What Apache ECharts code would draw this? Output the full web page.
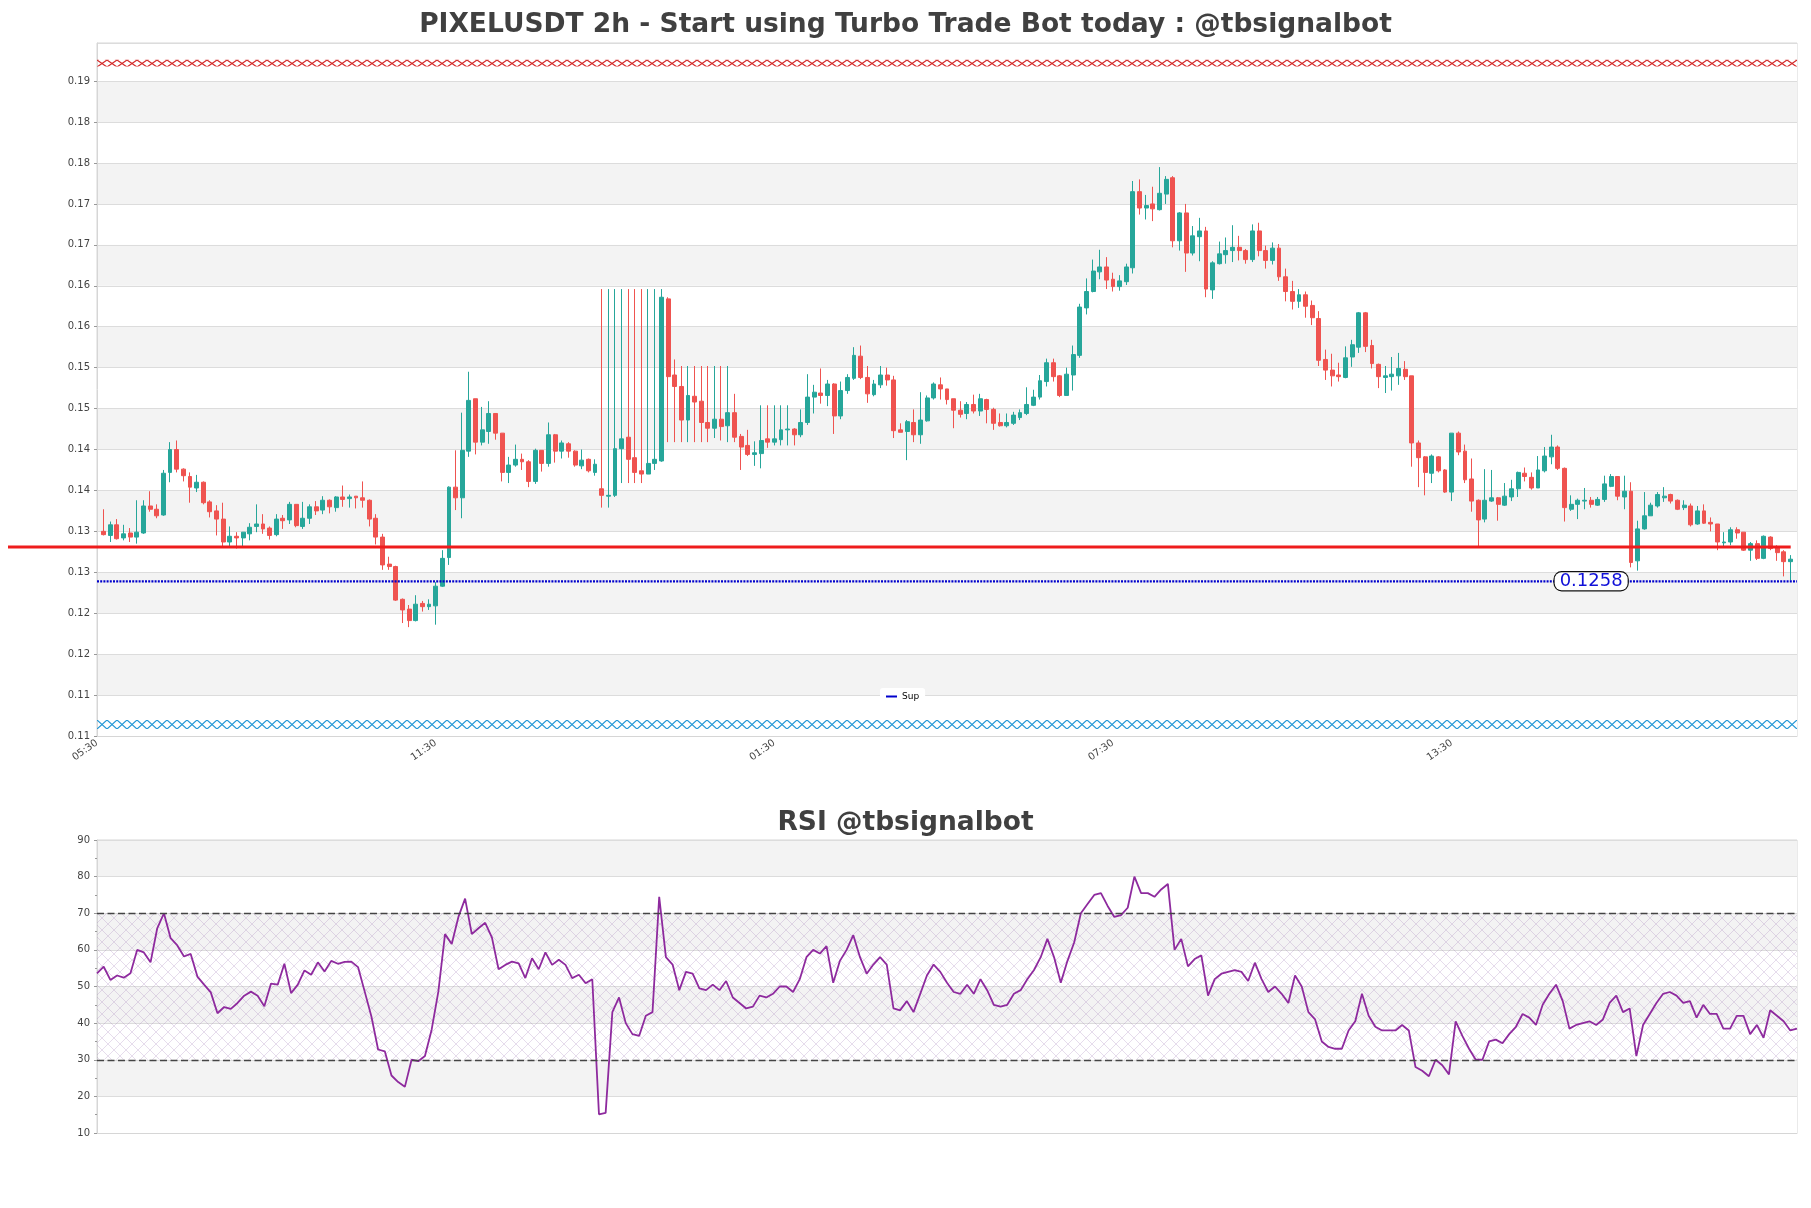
<!DOCTYPE html>
<html><head><meta charset="utf-8">
<script src="https://cdn.jsdelivr.net/npm/echarts@6/dist/echarts.min.js"></script>
<style>html,body{margin:0;padding:0;background:#fff}#c{width:1811px;height:1208px}</style>
</head><body><div id="c"></div>
<script>
const TITLE = 'PIXELUSDT 2h - Start using Turbo Trade Bot today : @tbsignalbot';
const RSI_TITLE = 'RSI @tbsignalbot';

const OPEN = [
0.1319,0.1314,0.1327,0.1311,0.1317,0.1312,0.1317,0.1350,0.1346,0.1339,
0.1391,0.1419,0.1395,0.1386,0.1372,0.1379,0.1355,0.1344,0.1334,0.1306,
0.1313,0.1311,0.1316,0.1325,0.1328,0.1323,0.1315,0.1335,0.1333,0.1352,
0.1325,0.1335,0.1349,0.1345,0.1357,0.1348,0.1361,0.1359,0.1362,0.1360,
0.1357,0.1335,0.1312,0.1279,0.1276,0.1236,0.1224,0.1210,0.1231,0.1227,
0.1228,0.1252,0.1287,0.1373,0.1360,0.1417,0.1481,0.1428,0.1441,0.1463,
0.1439,0.1391,0.1400,0.1407,0.1404,0.1380,0.1418,0.1402,0.1437,0.1417,
0.1426,0.1417,0.1399,0.1407,0.1391,0.1371,0.1362,0.1363,0.1420,0.1434,
0.1409,0.1393,0.1389,0.1402,0.1405,0.1603,0.1510,0.1496,0.1455,0.1484,
0.1478,0.1452,0.1445,0.1456,0.1448,0.1464,0.1435,0.1424,0.1413,0.1414,
0.1432,0.1428,0.1431,0.1443,0.1444,0.1437,0.1452,0.1483,0.1488,0.1485,
0.1499,0.1460,0.1491,0.1506,0.1533,0.1507,0.1486,0.1498,0.1510,0.1504,
0.1443,0.1441,0.1452,0.1437,0.1454,0.1482,0.1498,0.1493,0.1481,0.1467,
0.1463,0.1474,0.1466,0.1480,0.1468,0.1452,0.1448,0.1451,0.1458,0.1463,
0.1473,0.1483,0.1502,0.1525,0.1509,0.1485,0.1510,0.1534,0.1592,0.1612,
0.1636,0.1642,0.1627,0.1618,0.1624,0.1641,0.1734,0.1714,0.1719,0.1712,
0.1731,0.1751,0.1674,0.1708,0.1659,0.1679,0.1686,0.1614,0.1646,0.1657,
0.1662,0.1666,0.1662,0.1651,0.1686,0.1662,0.1650,0.1665,0.1630,0.1612,
0.1600,0.1608,0.1595,0.1579,0.1529,0.1516,0.1510,0.1507,0.1532,0.1544,
0.1586,0.1546,0.1523,0.1507,0.1508,0.1509,0.1517,0.1509,0.1427,0.1410,
0.1390,0.1410,0.1394,0.1367,0.1439,0.1417,0.1383,0.1357,0.1334,0.1356,
0.1360,0.1351,0.1361,0.1371,0.1390,0.1385,0.1372,0.1393,0.1410,0.1422,
0.1396,0.1346,0.1352,0.1356,0.1357,0.1351,0.1358,0.1374,0.1386,0.1361,
0.1368,0.1283,0.1322,0.1338,0.1350,0.1360,0.1364,0.1357,0.1348,0.1350,
0.1328,0.1344,0.1330,0.1328,0.1305,0.1306,0.1321,0.1318,0.1296,0.1304,
0.1286,0.1312,0.1300,0.1294,0.1282];

const CLOSE = [
0.1315,0.1327,0.1310,0.1316,0.1312,0.1318,0.1350,0.1346,0.1338,0.1390,
0.1419,0.1395,0.1387,0.1373,0.1379,0.1354,0.1343,0.1334,0.1306,0.1313,
0.1311,0.1318,0.1324,0.1328,0.1322,0.1314,0.1334,0.1332,0.1352,0.1326,
0.1335,0.1349,0.1344,0.1357,0.1349,0.1361,0.1358,0.1361,0.1360,0.1357,
0.1334,0.1312,0.1278,0.1276,0.1235,0.1223,0.1210,0.1230,0.1227,0.1230,
0.1252,0.1286,0.1373,0.1360,0.1418,0.1479,0.1428,0.1443,0.1463,0.1439,
0.1391,0.1400,0.1407,0.1404,0.1380,0.1418,0.1402,0.1437,0.1417,0.1427,
0.1417,0.1400,0.1406,0.1393,0.1401,0.1363,0.1363,0.1420,0.1432,0.1407,
0.1391,0.1389,0.1402,0.1407,0.1605,0.1508,0.1496,0.1455,0.1485,0.1477,
0.1452,0.1445,0.1456,0.1447,0.1464,0.1434,0.1422,0.1413,0.1415,0.1430,
0.1428,0.1432,0.1443,0.1444,0.1437,0.1452,0.1483,0.1489,0.1485,0.1499,
0.1460,0.1491,0.1507,0.1534,0.1507,0.1487,0.1499,0.1510,0.1504,0.1442,
0.1440,0.1453,0.1437,0.1455,0.1482,0.1499,0.1493,0.1480,0.1467,0.1462,
0.1474,0.1466,0.1481,0.1468,0.1451,0.1448,0.1452,0.1461,0.1464,0.1474,
0.1483,0.1503,0.1525,0.1508,0.1485,0.1511,0.1535,0.1593,0.1612,0.1637,
0.1642,0.1626,0.1618,0.1625,0.1642,0.1734,0.1714,0.1717,0.1713,0.1732,
0.1749,0.1674,0.1708,0.1659,0.1680,0.1686,0.1615,0.1647,0.1658,0.1662,
0.1666,0.1662,0.1651,0.1686,0.1662,0.1650,0.1665,0.1630,0.1612,0.1600,
0.1608,0.1594,0.1580,0.1528,0.1516,0.1509,0.1508,0.1531,0.1547,0.1586,
0.1545,0.1524,0.1508,0.1509,0.1511,0.1518,0.1508,0.1427,0.1409,0.1391,
0.1411,0.1393,0.1367,0.1439,0.1416,0.1382,0.1356,0.1333,0.1357,0.1360,
0.1352,0.1362,0.1371,0.1391,0.1386,0.1372,0.1394,0.1411,0.1422,0.1396,
0.1348,0.1352,0.1357,0.1357,0.1352,0.1358,0.1377,0.1386,0.1362,0.1368,
0.1281,0.1322,0.1338,0.1351,0.1364,0.1362,0.1356,0.1346,0.1351,0.1327,
0.1344,0.1329,0.1328,0.1306,0.1306,0.1321,0.1317,0.1296,0.1304,0.1286,
0.1313,0.1298,0.1293,0.1282,0.1285];

const HIGH = [
0.1346,0.1331,0.1334,0.1327,0.1323,0.1357,0.1357,0.1368,0.1352,0.1394,
0.1428,0.1430,0.1396,0.1391,0.1388,0.1380,0.1357,0.1351,0.1354,0.1325,
0.1318,0.1318,0.1329,0.1352,0.1340,0.1325,0.1340,0.1339,0.1355,0.1352,
0.1355,0.1352,0.1356,0.1362,0.1358,0.1362,0.1375,0.1364,0.1362,0.1380,
0.1358,0.1340,0.1316,0.1288,0.1277,0.1237,0.1229,0.1241,0.1234,0.1236,
0.1257,0.1296,0.1374,0.1418,0.1464,0.1514,0.1481,0.1471,0.1478,0.1463,
0.1439,0.1410,0.1425,0.1414,0.1406,0.1420,0.1418,0.1452,0.1438,0.1430,
0.1428,0.1418,0.1419,0.1408,0.1407,0.1615,0.1615,0.1615,0.1615,0.1615,
0.1615,0.1615,0.1615,0.1615,0.1615,0.1605,0.1529,0.1521,0.1521,0.1521,
0.1521,0.1521,0.1521,0.1521,0.1521,0.1487,0.1438,0.1443,0.1429,0.1473,
0.1473,0.1473,0.1473,0.1473,0.1445,0.1468,0.1511,0.1498,0.1518,0.1504,
0.1500,0.1502,0.1511,0.1544,0.1546,0.1521,0.1504,0.1521,0.1519,0.1509,
0.1451,0.1455,0.1468,0.1489,0.1485,0.1501,0.1507,0.1493,0.1481,0.1478,
0.1477,0.1486,0.1487,0.1481,0.1470,0.1463,0.1463,0.1465,0.1468,0.1495,
0.1492,0.1510,0.1530,0.1530,0.1510,0.1519,0.1546,0.1597,0.1628,0.1651,
0.1663,0.1654,0.1635,0.1632,0.1646,0.1747,0.1749,0.1730,0.1740,0.1764,
0.1753,0.1753,0.1709,0.1719,0.1692,0.1702,0.1691,0.1649,0.1673,0.1678,
0.1693,0.1680,0.1664,0.1694,0.1696,0.1668,0.1672,0.1670,0.1640,0.1625,
0.1615,0.1612,0.1601,0.1588,0.1541,0.1536,0.1525,0.1545,0.1553,0.1587,
0.1587,0.1553,0.1524,0.1521,0.1532,0.1537,0.1527,0.1509,0.1430,0.1411,
0.1413,0.1411,0.1395,0.1439,0.1441,0.1425,0.1408,0.1358,0.1395,0.1394,
0.1361,0.1378,0.1382,0.1392,0.1397,0.1391,0.1411,0.1422,0.1437,0.1424,
0.1397,0.1363,0.1359,0.1372,0.1361,0.1361,0.1387,0.1389,0.1386,0.1387,
0.1379,0.1332,0.1367,0.1354,0.1367,0.1373,0.1365,0.1358,0.1357,0.1353,
0.1350,0.1352,0.1336,0.1328,0.1318,0.1324,0.1324,0.1318,0.1306,0.1308,
0.1314,0.1313,0.1302,0.1296,0.1290];

const LOW = [
0.1314,0.1306,0.1309,0.1308,0.1306,0.1304,0.1316,0.1343,0.1335,0.1338,
0.1379,0.1391,0.1380,0.1354,0.1367,0.1352,0.1336,0.1314,0.1301,0.1300,
0.1298,0.1299,0.1308,0.1318,0.1316,0.1309,0.1313,0.1322,0.1328,0.1324,
0.1322,0.1328,0.1339,0.1340,0.1341,0.1343,0.1349,0.1348,0.1347,0.1348,
0.1325,0.1303,0.1272,0.1272,0.1234,0.1207,0.1202,0.1209,0.1221,0.1223,
0.1205,0.1251,0.1278,0.1345,0.1335,0.1410,0.1413,0.1424,0.1426,0.1431,
0.1380,0.1378,0.1398,0.1394,0.1373,0.1377,0.1392,0.1398,0.1403,0.1408,
0.1409,0.1398,0.1395,0.1391,0.1387,0.1348,0.1348,0.1361,0.1378,0.1378,
0.1378,0.1378,0.1389,0.1394,0.1404,0.1428,0.1428,0.1428,0.1428,0.1428,
0.1428,0.1428,0.1433,0.1430,0.1428,0.1428,0.1394,0.1411,0.1399,0.1396,
0.1421,0.1424,0.1424,0.1424,0.1424,0.1434,0.1449,0.1463,0.1475,0.1472,
0.1438,0.1456,0.1487,0.1504,0.1505,0.1476,0.1484,0.1494,0.1497,0.1433,
0.1440,0.1406,0.1428,0.1426,0.1453,0.1480,0.1480,0.1474,0.1445,0.1458,
0.1456,0.1463,0.1460,0.1451,0.1443,0.1447,0.1446,0.1449,0.1455,0.1461,
0.1472,0.1480,0.1496,0.1502,0.1483,0.1485,0.1491,0.1531,0.1584,0.1611,
0.1627,0.1615,0.1612,0.1613,0.1620,0.1634,0.1706,0.1700,0.1698,0.1711,
0.1719,0.1666,0.1662,0.1636,0.1656,0.1649,0.1605,0.1603,0.1645,0.1646,
0.1648,0.1650,0.1646,0.1648,0.1655,0.1640,0.1645,0.1625,0.1600,0.1590,
0.1592,0.1580,0.1571,0.1521,0.1504,0.1496,0.1502,0.1506,0.1520,0.1537,
0.1538,0.1518,0.1494,0.1488,0.1491,0.1498,0.1504,0.1398,0.1373,0.1363,
0.1378,0.1391,0.1366,0.1356,0.1412,0.1378,0.1343,0.1299,0.1330,0.1355,
0.1332,0.1350,0.1356,0.1361,0.1380,0.1370,0.1372,0.1391,0.1401,0.1394,
0.1331,0.1344,0.1334,0.1346,0.1348,0.1350,0.1355,0.1373,0.1357,0.1346,
0.1275,0.1271,0.1321,0.1338,0.1348,0.1355,0.1353,0.1345,0.1345,0.1325,
0.1327,0.1328,0.1319,0.1296,0.1301,0.1302,0.1310,0.1295,0.1283,0.1284,
0.1285,0.1296,0.1283,0.1264,0.1259];

const RSI = [
53.6,55.4,51.8,53.0,52.4,53.6,60.0,59.3,56.6,65.9,
70.0,63.2,61.2,58.2,58.9,52.7,50.5,48.4,42.7,44.4,
43.9,45.5,47.5,48.6,47.5,44.6,50.8,50.5,56.2,48.2,
50.5,54.4,53.2,56.6,54.1,57.0,56.2,56.7,56.8,55.3,
48.6,41.8,32.8,32.3,25.7,23.9,22.6,30.0,29.6,31.0,
38.2,48.6,64.3,61.6,69.0,74.0,64.3,65.9,67.4,63.4,
54.7,55.9,56.8,56.3,52.3,57.7,54.7,59.3,55.9,57.3,
55.9,52.3,53.2,50.9,52.0,15.1,15.5,43.0,47.0,40.0,
37.0,36.5,42.0,43.0,74.5,58.0,56.0,49.0,54.0,53.5,
49.5,49.0,50.5,49.0,51.5,47.0,45.5,44.0,44.5,47.5,
47.0,48.0,50.0,50.0,48.5,52.0,58.0,60.0,59.0,61.0,
51.0,57.0,60.0,64.0,58.0,53.5,56.0,58.0,56.0,44.0,
43.5,46.0,43.0,48.0,53.0,56.0,54.0,51.0,48.5,48.0,
50.5,48.0,52.0,49.0,45.0,44.5,45.0,48.0,49.0,52.0,
54.5,58.0,63.0,58.0,51.0,57.0,62.0,70.0,72.5,75.0,
75.5,72.0,69.0,69.5,71.5,80.0,75.5,75.5,74.5,76.5,
78.0,60.0,63.0,55.5,57.5,58.5,47.5,52.0,53.5,54.0,
54.5,54.0,51.5,56.5,52.0,48.5,50.0,48.0,45.5,53.0,
50.0,43.0,41.0,35.0,33.5,33.0,33.0,38.0,40.5,48.0,
42.0,39.0,38.0,38.0,38.0,39.5,38.0,28.0,27.0,25.5,
30.0,28.5,26.0,40.5,36.5,33.0,30.0,30.0,35.0,35.5,
34.5,37.0,39.0,42.5,41.5,39.5,45.0,48.0,50.5,46.0,
38.5,39.5,40.0,40.5,39.5,41.0,45.5,47.5,43.0,44.0,
31.0,39.5,42.5,45.5,48.0,48.5,47.5,45.5,46.0,41.5,
45.0,42.5,42.5,38.5,38.5,42.0,42.0,37.0,39.5,36.0,
43.5,42.0,40.5,38.0,38.5];

const TICK_POS = [-1, 50, 101, 152, 203];
const TICK_LABELS = ['05:30', '11:30', '01:30', '07:30', '13:30'];
const RES_LEVEL = 0.1300;
const SUP_LEVEL = 0.1258;
const SUP_LABEL_AT = 224;
const RED_ZONE = [0.1887, 0.1895];
const BLUE_ZONE = [0.10775, 0.10885];
const Y_MIN = 0.1069, Y_MAX = 0.19156, Y_STEP = 0.005;
const RSI_MIN = 10, RSI_MAX = 90, RSI_STEP = 10;
const RSI_LEVELS = [30, 70];

const N = OPEN.length;
const CATS = [];
for (let k = -1; k <= N; k++) CATS.push('c' + k);
const candleData = ['-'].concat(OPEN.map((o, i) => [o, CLOSE[i], LOW[i], HIGH[i]]), ['-']);
const RSI_CATS = RSI.map((_, i) => 'r' + i);

function xHatch(color, w, h, lw) {
  const c = document.createElement('canvas');
  c.width = w; c.height = Math.max(2, h);
  const g = c.getContext('2d');
  g.strokeStyle = color; g.lineWidth = lw;
  g.beginPath();
  g.moveTo(0, 0); g.lineTo(w, c.height);
  g.moveTo(w, 0); g.lineTo(0, c.height);
  g.stroke();
  return c;
}

const FONT = 'DejaVu Sans';
const GRID_BORDER = '#d6d6d6';
const SUP_COLOR = '#0000cc';
const RES_COLOR = '#ee1c1c';
const chart = echarts.init(document.getElementById('c'));

const option = {
  animation: false,
  backgroundColor: '#ffffff',
  textStyle: { fontFamily: FONT },
  title: [
    { text: TITLE, left: 'center', top: 12, padding: 0,
      textStyle: { fontSize: 26.5, fontWeight: 'bold', color: '#404040', fontFamily: FONT } },
    { text: RSI_TITLE, left: 'center', top: 810, padding: 0,
      textStyle: { fontSize: 26.5, fontWeight: 'bold', color: '#404040', fontFamily: FONT } }
  ],
  legend: {
    data: ['Sup'], left: 880, top: 688, padding: [4, 6], itemWidth: 11, itemHeight: 2, icon: 'rect',
    textStyle: { fontSize: 9, color: '#000', fontFamily: FONT },
    backgroundColor: '#ffffff', borderRadius: 3
  },
  grid: [
    { left: 97, top: 43, width: 1700, height: 693, show: true, borderColor: GRID_BORDER, borderWidth: 1, backgroundColor: 'rgba(0,0,0,0)' },
    { left: 97, top: 840, width: 1700, height: 293, show: true, borderColor: GRID_BORDER, borderWidth: 1, backgroundColor: 'rgba(0,0,0,0)' },
    { left: 8, top: 43, width: 1782.7, height: 693, show: false }
  ],
  xAxis: [
    { gridIndex: 0, type: 'category', data: CATS, boundaryGap: false,
      axisLine: { show: true, lineStyle: { color: GRID_BORDER } }, axisTick: { show: false },
      splitLine: { show: false },
      axisLabel: { interval: (idx) => TICK_POS.indexOf(idx - 1) >= 0,
        formatter: (v, idx) => { const j = TICK_POS.indexOf(idx - 1); return j >= 0 ? TICK_LABELS[j] : ''; },
        rotate: 35, fontSize: 10, color: '#444', margin: 6, fontFamily: FONT } },
    { gridIndex: 1, type: 'category', data: RSI_CATS, boundaryGap: false,
      axisLine: { show: true, lineStyle: { color: GRID_BORDER } }, axisTick: { show: false },
      axisLabel: { show: false }, splitLine: { show: false } },
    { gridIndex: 2, type: 'value', min: 0, max: 1, show: false },
    { gridIndex: 0, type: 'value', min: 0, max: 1, show: false, position: 'top' }
  ],
  yAxis: [
    { gridIndex: 0, type: 'value', min: Y_MIN, max: Y_MAX, interval: Y_STEP, scale: true,
      axisLine: { show: true, lineStyle: { color: GRID_BORDER } },
      axisTick: { show: true, length: 3, lineStyle: { color: '#999' } },
      axisLabel: { formatter: (v) => v.toFixed(2), showMaxLabel: false, fontSize: 10, color: '#444', margin: 7, fontFamily: FONT },
      splitLine: { show: true, lineStyle: { color: '#dcdcdc', width: 1 } },
      splitArea: { show: true, areaStyle: { color: ['#ffffff', '#f3f3f3'] } } },
    { gridIndex: 1, type: 'value', min: RSI_MIN, max: RSI_MAX, interval: RSI_STEP,
      axisLine: { show: true, lineStyle: { color: GRID_BORDER } },
      axisTick: { show: true, length: 3, lineStyle: { color: '#999' } },
      minorTick: { show: true, splitNumber: 2, length: 2, lineStyle: { color: '#999' } },
      axisLabel: { fontSize: 10, color: '#444', margin: 7, fontFamily: FONT },
      splitLine: { show: true, lineStyle: { color: '#dcdcdc', width: 1 } },
      splitArea: { show: true, areaStyle: { color: ['#ffffff', '#f3f3f3'] } } },
    { gridIndex: 2, type: 'value', min: Y_MIN, max: Y_MAX, show: false }
  ],
  series: [
    { id: 'zones', type: 'line', xAxisIndex: 0, yAxisIndex: 0, data: [], silent: true, z: 6,
      color: 'rgba(0,0,0,0)', showSymbol: false,
      markArea: { silent: true, data: [] },
      markPoint: { silent: true, symbol: 'rect', symbolSize: 1, itemStyle: { color: 'rgba(0,0,0,0)' },
        data: [{ coord: [CATS[SUP_LABEL_AT + 1], SUP_LEVEL] }],
        label: { show: true, position: 'inside', formatter: () => SUP_LEVEL.toFixed(4),
          color: '#1010d8', fontSize: 18, fontFamily: FONT, backgroundColor: '#ffffff',
          borderColor: '#111', borderWidth: 1.2, borderRadius: 7, padding: [0, 5, 0, 5] } } },
    { id: 'candles', type: 'candlestick', xAxisIndex: 0, yAxisIndex: 0, data: candleData,
      barWidth: 4.4, z: 3,
      itemStyle: { color: '#26a69a', color0: '#ef5350', borderColor: '#26a69a', borderColor0: '#ef5350', borderWidth: 1 } },
    { id: 'sup', name: 'Sup', type: 'line', xAxisIndex: 3, yAxisIndex: 0,
      data: [[0, SUP_LEVEL], [1, SUP_LEVEL]], symbol: 'none', silent: true, color: SUP_COLOR, z: 4,
      lineStyle: { color: SUP_COLOR, type: [2, 1.2], width: 2.2 } },
    { id: 'res', type: 'line', xAxisIndex: 2, yAxisIndex: 2, data: [[0, RES_LEVEL], [1, RES_LEVEL]],
      symbol: 'none', silent: true, z: 5, color: RES_COLOR, lineStyle: { color: RES_COLOR, width: 3 } },
    { id: 'rsi', type: 'line', xAxisIndex: 1, yAxisIndex: 1, data: RSI, symbol: 'none', z: 4,
      color: '#8e2a9e', lineStyle: { color: '#8e2a9e', width: 1.8 },
      markLine: { silent: true, symbol: 'none', label: { show: false },
        lineStyle: { color: '#444', type: [7, 3.5], width: 1.4 },
        data: RSI_LEVELS.map(v => ({ yAxis: v })) },
      markArea: { silent: true,
        itemStyle: { color: { image: xHatch('rgba(150,110,175,0.30)', 12, 12, 0.8), repeat: 'repeat' } },
        data: [[{ yAxis: RSI_LEVELS[0] }, { yAxis: RSI_LEVELS[1] }]] } }
  ]
};
chart.setOption(option);

function bandPattern(zone, color) {
  const yTop = chart.convertToPixel({ yAxisIndex: 0 }, zone[1]);
  const yBot = chart.convertToPixel({ yAxisIndex: 0 }, zone[0]);
  const h = Math.round(yBot - yTop);
  return { image: xHatch(color, 10, h, 1.2), repeat: 'repeat', x: 97, y: Math.round(yTop) };
}
chart.setOption({
  series: [{ id: 'zones',
    markArea: { silent: true, data: [
      [{ yAxis: RED_ZONE[0], itemStyle: { color: bandPattern(RED_ZONE, '#d42a2a') } }, { yAxis: RED_ZONE[1] }],
      [{ yAxis: BLUE_ZONE[0], itemStyle: { color: bandPattern(BLUE_ZONE, '#1f96d6') } }, { yAxis: BLUE_ZONE[1] }]
    ] } }]
});
</script>
</body></html>
